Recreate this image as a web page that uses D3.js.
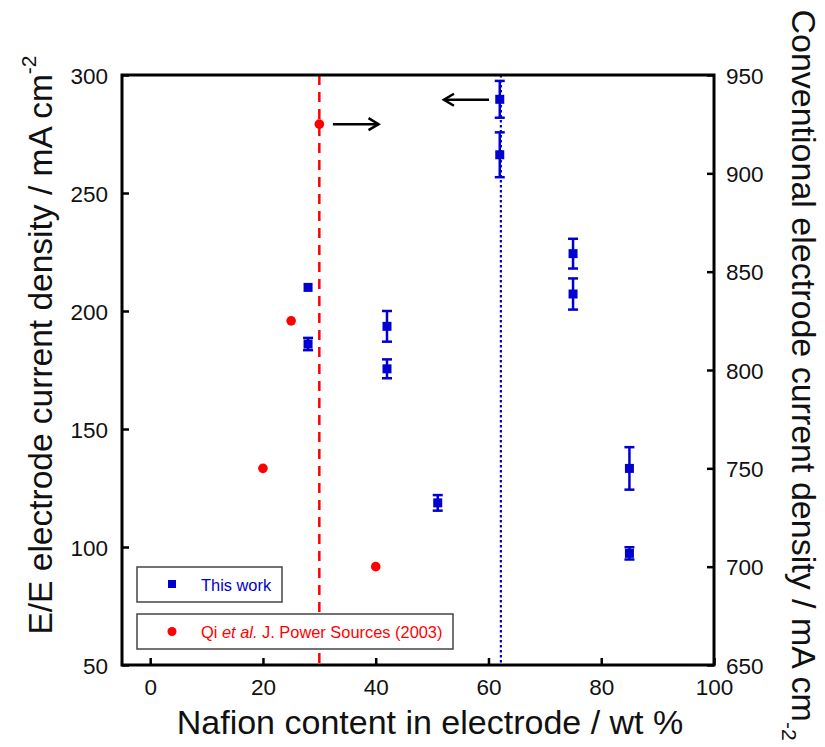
<!DOCTYPE html>
<html>
<head>
<meta charset="utf-8">
<script src="https://cdn.jsdelivr.net/npm/d3@7"></script>
<style>
  body { margin: 0; background: #fff; }
  svg { font-family: "Liberation Sans", Arial, sans-serif; }
</style>
</head>
<body>
<div id="wrapper"></div>
<script>
// this work (left axis)
const workX = [28, 28, 42, 42, 51, 62, 62, 75, 75, 85, 85];
const workY = [210, 186, 193.5, 175.5, 118.7, 289.7, 266.2, 224.3, 207.2, 133.3, 97.3];
const workErr = [0, 2.6, 6.5, 4, 3.3, 7.8, 9.5, 6.3, 6.6, 9, 2.6];

// Qi et al. (right axis)
const qiX = [20, 25, 30, 40];
const qiY = [750, 825, 925, 700];

const xTicks = [0, 20, 40, 60, 80, 100];
const leftTicks = [50, 100, 150, 200, 250, 300];
const rightTicks = [650, 700, 750, 800, 850, 900, 950];

const qiOptimum = 30;
const workOptimum = 62.2;

function drawChart() {
    const dms = {
        width: 825,
        height: 747,
        margins: { top: 75, right: 111, bottom: 82, left: 122 }
    };
    dms.innerWidth = dms.width - dms.margins.left - dms.margins.right;
    dms.innerHeight = dms.height - dms.margins.top - dms.margins.bottom;

    const svg = d3.select("#wrapper")
        .append("svg")
            .attr("width", dms.width)
            .attr("height", dms.height);

    const inner = svg.append("g")
        .attr("transform", `translate(${dms.margins.left},${dms.margins.top})`);

    // scales
    const xScale = d3.scaleLinear().domain([-5, 100]).range([0, dms.innerWidth]);
    const yLeft = d3.scaleLinear().domain([50, 300]).range([dms.innerHeight, 0]);
    const yRight = d3.scaleLinear().domain([650, 950]).range([dms.innerHeight, 0]);

    const blue = "#0000d0";
    const red = "#ff0000";

    // vertical guide lines
    inner.append("line")
        .attr("x1", xScale(qiOptimum)).attr("x2", xScale(qiOptimum))
        .attr("y1", 0).attr("y2", dms.innerHeight)
        .attr("stroke", red)
        .attr("stroke-width", 2.5)
        .attr("stroke-dasharray", "10 7");

    inner.append("line")
        .attr("x1", xScale(workOptimum)).attr("x2", xScale(workOptimum))
        .attr("y1", 0).attr("y2", dms.innerHeight)
        .attr("stroke", blue)
        .attr("stroke-width", 2.2)
        .attr("stroke-dasharray", "2.5 2.5");

    // axes
    const tickStyle = g => {
        g.select(".domain").remove();
        g.selectAll(".tick line").attr("stroke", "#000").attr("stroke-width", 2.5);
        g.selectAll(".tick text").attr("fill", "#111").style("font-size", "22.5px");
    };

    inner.append("g")
        .attr("transform", `translate(0,${dms.innerHeight})`)
        .call(d3.axisBottom(xScale).tickValues(xTicks).tickSize(-7).tickSizeOuter(0).tickPadding(14))
        .call(tickStyle);

    inner.append("g")
        .call(d3.axisLeft(yLeft).tickValues(leftTicks).tickSize(-7).tickSizeOuter(0).tickPadding(14))
        .call(tickStyle)
        .call(g => g.selectAll(".tick text").attr("dy", "0.36em"));

    inner.append("g")
        .attr("transform", `translate(${dms.innerWidth},0)`)
        .call(d3.axisRight(yRight).tickValues(rightTicks).tickSize(-7).tickSizeOuter(0).tickPadding(12))
        .call(tickStyle)
        .call(g => g.selectAll(".tick text").attr("dy", "0.36em"));

    // frame
    inner.append("rect")
        .attr("width", dms.innerWidth)
        .attr("height", dms.innerHeight)
        .attr("fill", "none")
        .attr("stroke", "#000")
        .attr("stroke-width", 3);

    // this work: error bars + squares
    const work = workX.map((x, i) => ({ x, y: workY[i], e: workErr[i] }));
    const workG = inner.append("g").selectAll("g").data(work).join("g");

    workG.filter(d => d.e > 0).append("line")
        .attr("x1", d => xScale(d.x)).attr("x2", d => xScale(d.x))
        .attr("y1", d => yLeft(d.y + d.e)).attr("y2", d => yLeft(d.y - d.e))
        .attr("stroke", blue).attr("stroke-width", 2.5);
    [1, -1].forEach(s => {
        workG.filter(d => d.e > 0).append("line")
            .attr("x1", d => xScale(d.x) - 5).attr("x2", d => xScale(d.x) + 5)
            .attr("y1", d => yLeft(d.y + s * d.e)).attr("y2", d => yLeft(d.y + s * d.e))
            .attr("stroke", blue).attr("stroke-width", 2.5);
    });
    workG.append("rect")
        .attr("x", d => xScale(d.x) - 4.5)
        .attr("y", d => yLeft(d.y) - 4.5)
        .attr("width", 9).attr("height", 9)
        .attr("fill", blue);

    // Qi et al.
    inner.append("g").selectAll("circle")
        .data(qiX.map((x, i) => ({ x, y: qiY[i] })))
        .join("circle")
            .attr("cx", d => xScale(d.x))
            .attr("cy", d => yRight(d.y))
            .attr("r", 4.8)
            .attr("fill", red);

    // arrows showing which axis each series belongs to
    const arrow = (x0, x1, y) => {
        const dir = Math.sign(x1 - x0);
        inner.append("line")
            .attr("x1", x0).attr("x2", x1).attr("y1", y).attr("y2", y)
            .attr("stroke", "#000").attr("stroke-width", 2.5);
        inner.append("polyline")
            .attr("points", `${x1 - dir * 10},${y - 6} ${x1},${y} ${x1 - dir * 10},${y + 6}`)
            .attr("fill", "none").attr("stroke", "#000").attr("stroke-width", 2.5);
    };
    arrow(xScale(32.4), xScale(40.5), yRight(925));
    arrow(xScale(60.1), xScale(52.1), yLeft(289.5));

    // legend
    const legend = [
        { label: "This work", color: blue, shape: "square", y: 492, w: 145 },
        { label: "qi", color: red, shape: "circle", y: 539, w: 316 }
    ];
    const lg = inner.append("g").selectAll("g").data(legend).join("g")
        .attr("transform", d => `translate(15,${d.y})`);
    lg.append("rect")
        .attr("width", d => d.w).attr("height", 35)
        .attr("fill", "#fff").attr("stroke", "#444").attr("stroke-width", 1.5);
    lg.filter(d => d.shape === "square").append("rect")
        .attr("x", 31).attr("y", 13).attr("width", 8).attr("height", 8)
        .attr("fill", blue);
    lg.filter(d => d.shape === "circle").append("circle")
        .attr("cx", 35).attr("cy", 17.5).attr("r", 4.5)
        .attr("fill", red);
    const lt = lg.append("text")
        .attr("x", 64).attr("y", 23.5)
        .attr("fill", d => d.color)
        .style("font-size", "16.4px");
    lt.filter(d => d.label !== "qi").text(d => d.label);
    const qiText = lt.filter(d => d.label === "qi");
    qiText.append("tspan").text("Qi ");
    qiText.append("tspan").style("font-style", "italic").text("et al.");
    qiText.append("tspan").text(" J. Power Sources (2003)");

    // axis titles
    svg.append("text")
        .attr("x", 430)
        .attr("y", 734)
        .attr("text-anchor", "middle")
        .style("font-size", "34px")
        .attr("fill", "#111")
        .text("Nafion content in electrode / wt %");

    const leftTitle = svg.append("text")
        .attr("transform", `translate(52,345) rotate(-90)`)
        .attr("text-anchor", "middle")
        .style("font-size", "33.5px")
        .attr("fill", "#111");
    leftTitle.append("tspan").text("E/E electrode current density / mA cm");
    leftTitle.append("tspan").attr("dy", "-0.75em").style("font-size", "21px").text("-2");

    const rightTitle = svg.append("text")
        .attr("transform", `translate(792,375) rotate(90)`)
        .attr("text-anchor", "middle")
        .style("font-size", "34px")
        .attr("fill", "#111");
    rightTitle.append("tspan").text("Conventional electrode current density / mA cm");
    rightTitle.append("tspan").attr("dy", "0.5em").style("font-size", "21px").text("-2");
}

drawChart();
</script>
</body>
</html>
